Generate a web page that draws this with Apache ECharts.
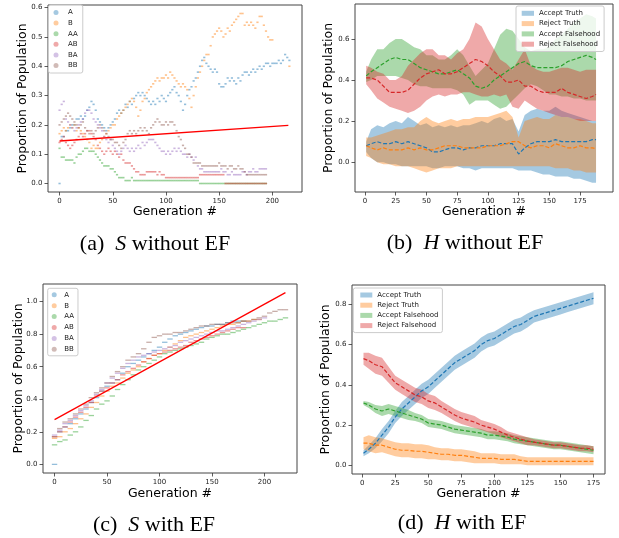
<!DOCTYPE html>
<html lang="en">
<head>
<meta charset="UTF-8">
<title>Proportion of Population</title>
<script src="https://cdn.jsdelivr.net/npm/echarts@6.0.0/dist/echarts.min.js"></script>
<style>
  html, body { margin: 0; padding: 0; background: #fff; }
  #main { width: 619px; height: 538px; }
</style>
</head>
<body>
<div id="main"></div>
<script>
// tab10 colours
const COLORS = ['#1f77b4', '#ff7f0e', '#2ca02c', '#d62728', '#9467bd', '#8c564b'];
const strategyNames = ['A', 'B', 'AA', 'AB', 'BA', 'BB'];
const beliefNames = ['Accept Truth', 'Reject Truth', 'Accept Falsehood', 'Reject Falsehood'];

// ---- (a) S without EF : one value every 2 generations ----
const aStep = 2;
const aA = [0.00,0.16,0.16,0.18,0.18, 0.19,0.20,0.20,0.22,0.22, 0.23,0.22,0.23,0.25,0.26, 0.28,0.27,0.25,0.22,0.21,
  0.20,0.19,0.18,0.19,0.20, 0.21,0.22,0.24,0.25,0.24, 0.25,0.27,0.26,0.28,0.27, 0.29,0.30,0.31,0.30,0.31,
  0.30,0.29,0.28,0.27,0.28, 0.27,0.29,0.28,0.30,0.29, 0.28,0.30,0.31,0.32,0.33, 0.31,0.30,0.28,0.25,0.27,
  0.30,0.32,0.33,0.35,0.36, 0.38,0.40,0.42,0.43,0.41, 0.40,0.39,0.38,0.39,0.38, 0.34,0.33,0.33,0.34,0.36,
  0.35,0.36,0.35,0.34,0.36, 0.35,0.37,0.38,0.38,0.37, 0.38,0.39,0.38,0.39,0.40, 0.39,0.40,0.41,0.41,0.40,
  0.41,0.41,0.41,0.42,0.41, 0.42,0.44,0.43,0.42];
const aB = [0.17,0.18,0.19,0.18,0.19, 0.20,0.19,0.20,0.18,0.19, 0.18,0.17,0.16,0.15,0.14, 0.12,0.13,0.12,0.12,0.14,
  0.15,0.16,0.17,0.18,0.19, 0.20,0.20,0.22,0.23,0.24, 0.25,0.26,0.27,0.28,0.29, 0.28,0.26,0.23,0.25,0.28,
  0.29,0.31,0.32,0.33,0.34, 0.35,0.36,0.35,0.36,0.36, 0.37,0.36,0.38,0.37,0.36, 0.35,0.34,0.33,0.34,0.33,
  0.32,0.29,0.26,0.30,0.33, 0.36,0.38,0.40,0.42,0.44, 0.44,0.47,0.50,0.51,0.52, 0.53,0.52,0.50,0.51,0.53,
  0.52,0.54,0.55,0.56,0.57, 0.58,0.58,0.54,0.55,0.54, 0.55,0.54,0.53,0.55,0.57, 0.57,0.54,0.52,0.50,0.49,
  0.49,null,null,null,null, null,null,null,0.40];
const aAA = [0.12,0.09,0.09,0.08,0.08, 0.08,0.08,0.07,0.09,0.10, 0.10,0.11,0.12,0.12,0.11, 0.11,0.11,0.10,0.09,0.08,
  0.07,0.06,0.06,0.06,0.05, 0.05,0.04,0.03,0.02,0.02, 0.02,0.01,0.01,0.01,0.02, 0.01,0.01,0.01,0.01,0.01,
  0.01,0.01,0.01,0.01,0.01, 0.01,0.01,0.01,0.01,0.01, 0.01,0.01,0.01,0.01,0.01, 0.01,0.01,0.01,0.01,0.01,
  0.01,0.01,0.01,0.01,0.01, 0.01,0.00,0.00,0.00,0.00, 0.00,0.00,0.00,0.00,0.00, 0.00,0.00,0.00,0.00,0.00,
  0.00,0.00,0.00,0.00,0.00, 0.00,0.00,0.00,0.00,0.00, 0.00,0.00,0.00,0.00,0.00, 0.00,0.00,0.00];
const aAB = [0.14,0.15,0.16,0.14,0.13, 0.12,0.13,0.14,0.15,0.16, 0.17,0.16,0.17,0.18,0.18, 0.17,0.16,0.15,0.13,0.12,
  0.11,0.10,0.11,0.12,0.11, 0.10,0.11,0.10,0.09,0.10, 0.08,0.07,0.07,0.07,0.06, 0.05,0.04,0.04,0.03,0.03,
  0.03,0.04,0.04,0.04,0.04, 0.04,0.03,0.04,0.03,0.03, 0.02,0.02,0.02,0.02,0.02, 0.02,0.02,0.02,0.02,0.02,
  0.02,0.02,0.02,0.02,0.02, 0.02,0.03,0.03,0.03,0.03, 0.03,0.03,0.03,0.03,0.03, 0.03,0.03,0.03,0.00,0.00,
  0.00,0.00,0.00,0.00,0.00, 0.00,0.00,0.00,0.00,0.00, 0.00,0.00,0.00,0.00,0.00, 0.00,0.00,0.00];
const aBA = [0.25,0.27,0.28,0.22,0.21, 0.20,0.19,0.18,0.19,0.20, 0.21,0.22,0.24,0.25,0.25, 0.24,0.22,0.21,0.20,0.19,
  0.18,0.16,0.15,0.14,0.15, 0.13,0.12,0.11,0.10,0.11, 0.12,0.13,0.12,0.11,0.12, 0.11,0.12,0.13,0.12,0.14,
  0.13,0.14,0.15,0.15,0.15, 0.14,0.13,0.12,0.11,0.11, 0.10,0.11,0.10,0.11,0.12, 0.11,0.12,0.11,0.10,0.10,
  0.09,0.10,0.09,0.08,0.09, 0.06,0.05,0.05,0.04,0.04, 0.04,0.04,0.04,0.04,0.04, 0.04,0.05,0.04,0.04,0.03,
  0.03,0.04,0.03,0.03,0.03, 0.03,0.04,0.04,0.03,0.04, 0.04,0.05,0.04,0.04,0.05, 0.05,0.05,0.05];
const aBB = [0.20,0.21,0.22,0.23,0.24, 0.23,0.22,0.21,0.20,0.19, 0.20,0.21,0.19,0.18,0.17, 0.18,0.17,0.18,0.19,0.20,
  0.19,0.18,0.17,0.16,0.15, 0.15,0.14,0.14,0.13,0.12, 0.14,0.15,0.17,0.18,0.17, 0.18,0.17,0.18,0.19,0.18,
  0.19,0.18,0.17,0.19,0.20, 0.21,0.22,0.21,0.20,0.20, 0.21,0.20,0.21,0.21,0.20, 0.18,0.16,0.15,0.13,0.12,
  0.10,0.10,0.09,0.07,0.07, 0.07,0.07,0.06,0.06,0.06, 0.06,0.06,0.06,0.06,0.06, 0.07,0.06,0.06,0.06,0.05,
  0.06,0.06,0.05,0.05,0.06, 0.05,0.05,0.04,0.03,0.03, 0.03,0.03,0.03,0.03,0.03, 0.03,0.03,0.03];
const aFitX = [0, 215];
const aFitY = [0.145, 0.198];

// ---- (c) S with EF : one value every 5 generations ----
const cStep = 5;
const cA = [0.00,0.20,0.23,0.25,0.28,0.31,0.34,0.38,0.41,0.45,0.48,0.50,0.52,0.56,0.60,0.62,0.64,0.66,0.68,0.70,
  0.72,0.75,0.77,0.79,0.80,0.81,0.82,0.83,0.84,0.85,0.85,0.86,0.86,0.87,0.88,0.88,0.88];
const cB = [0.16,0.17,0.20,0.22,0.25,0.28,0.31,0.35,0.38,0.42,0.45,0.48,0.50,0.53,0.56,0.58,0.60,0.63,0.65,0.67,
  0.68,0.70,0.72,0.74,0.76,0.78,0.79,0.80,0.81,0.82,0.83,0.84,0.85,0.86,0.86,0.87,0.88,0.88,0.89,0.89];
const cAA = [0.12,0.14,0.15,0.18,0.20,0.23,0.27,0.30,0.34,0.37,0.39,0.42,0.46,0.49,0.52,0.55,0.58,0.60,0.62,0.64,
  0.66,0.68,0.69,0.70,0.71,0.72,0.73,0.74,0.75,0.77,0.78,0.79,0.80,0.80,0.81,0.82,0.83,0.84,0.85,0.86,
  0.87,0.88,0.88,0.89,0.90];
const cAB = [0.17,0.20,0.23,0.26,0.29,0.32,0.35,0.38,0.42,0.45,0.47,0.50,0.52,0.55,0.57,0.59,0.61,0.63,0.65,0.67,
  0.68,0.69,0.70,0.71,0.72,0.73,0.75,0.76,0.77,0.78,0.79,0.80,0.81,0.82,0.83,0.84,0.84];
const cBA = [0.18,0.21,0.25,0.27,0.30,0.33,0.36,0.39,0.43,0.46,0.50,0.53,0.56,0.59,0.62,0.64,0.66,0.67,0.68,0.69,
  0.70,0.71,0.72,0.73,0.75,0.76,0.77,0.78,0.79,0.80,0.81,0.82,0.82,0.83,0.84,0.85,0.86,0.87,0.88,0.89,0.90];
const cBB = [0.17,0.22,0.26,0.28,0.31,0.34,0.37,0.41,0.44,0.47,0.50,0.54,0.57,0.60,0.64,0.66,0.68,0.71,0.75,0.78,
  0.79,0.80,0.80,0.81,0.81,0.82,0.83,0.84,0.85,0.85,0.86,0.86,0.86,0.87,0.87,0.87,0.88,0.88,0.89,0.90,
  0.91,0.93,0.94,0.95,0.95];
const cFitX = [0, 220];
const cFitY = [0.275, 1.055];

// ---- (b) H without EF : mean and band edges ----
const bGen = [1,5,10,15,20,25,30,35,40,45,50,55,60,65,70,75,80,85,90,95,100,105,110,115,120,125,130,135,140,145,150,155,160,165,170,175,180,185,188];
const bMean = [
  [0.08,0.09,0.10,0.09,0.09,0.10,0.09,0.10,0.09,0.08,0.07,0.05,0.05,0.06,0.07,0.07,0.06,0.07,0.07,0.08,0.08,0.08,0.09,0.09,0.09,0.04,0.07,0.09,0.10,0.10,0.10,0.11,0.10,0.10,0.10,0.10,0.10,0.11,0.11],
  [0.08,0.07,0.06,0.07,0.06,0.06,0.06,0.07,0.06,0.07,0.06,0.06,0.07,0.08,0.08,0.08,0.07,0.07,0.07,0.07,0.08,0.08,0.08,0.09,0.10,0.10,0.08,0.07,0.08,0.08,0.07,0.09,0.08,0.07,0.07,0.08,0.07,0.07,0.065],
  [0.42,0.44,0.46,0.48,0.50,0.51,0.50,0.50,0.48,0.46,0.45,0.44,0.43,0.43,0.44,0.45,0.43,0.41,0.37,0.36,0.37,0.40,0.42,0.44,0.46,0.48,0.49,0.47,0.46,0.46,0.46,0.46,0.47,0.49,0.50,0.51,0.52,0.51,0.50],
  [0.41,0.41,0.40,0.37,0.34,0.34,0.34,0.35,0.38,0.41,0.43,0.44,0.45,0.43,0.43,0.44,0.46,0.48,0.50,0.49,0.47,0.44,0.42,0.39,0.39,0.40,0.37,0.37,0.35,0.34,0.34,0.34,0.36,0.34,0.33,0.32,0.31,0.32,0.33]
];
const bUpper = [
  [0.10,0.16,0.18,0.17,0.19,0.20,0.19,0.22,0.20,0.18,0.19,0.17,0.18,0.17,0.18,0.17,0.18,0.18,0.19,0.20,0.19,0.21,0.22,0.20,0.21,0.15,0.23,0.25,0.26,0.25,0.25,0.27,0.25,0.24,0.23,0.22,0.21,0.20,0.20],
  [0.12,0.12,0.13,0.14,0.15,0.16,0.16,0.17,0.17,0.20,0.22,0.20,0.19,0.20,0.21,0.20,0.21,0.21,0.22,0.22,0.22,0.23,0.24,0.25,0.22,0.12,0.20,0.21,0.22,0.21,0.21,0.23,0.22,0.22,0.21,0.21,0.20,0.19,0.19],
  [0.44,0.50,0.55,0.55,0.58,0.60,0.60,0.58,0.56,0.55,0.52,0.52,0.50,0.50,0.52,0.55,0.52,0.47,0.42,0.45,0.48,0.55,0.62,0.65,0.64,0.60,0.56,0.54,0.55,0.55,0.56,0.60,0.62,0.65,0.68,0.70,0.72,0.71,0.70],
  [0.47,0.46,0.44,0.43,0.40,0.40,0.42,0.47,0.50,0.53,0.55,0.55,0.52,0.52,0.50,0.53,0.55,0.60,0.68,0.66,0.60,0.55,0.50,0.48,0.45,0.50,0.55,0.47,0.45,0.44,0.44,0.45,0.46,0.46,0.45,0.44,0.45,0.45,0.45]
];
const bLower = [
  [0.05,0.02,0.00,0.00,-0.01,-0.01,-0.02,-0.02,-0.02,-0.02,-0.02,-0.03,-0.03,-0.02,-0.02,-0.02,-0.03,-0.03,-0.04,-0.03,-0.03,-0.03,-0.03,-0.03,-0.03,-0.04,-0.04,-0.04,-0.05,-0.06,-0.06,-0.07,-0.07,-0.07,-0.08,-0.08,-0.09,-0.10,-0.10],
  [0.03,0.02,0.00,-0.01,-0.01,-0.02,-0.02,-0.02,-0.03,-0.04,-0.05,-0.04,-0.03,-0.03,-0.03,-0.02,-0.02,-0.02,-0.02,-0.02,-0.02,-0.02,-0.02,-0.02,-0.02,-0.02,-0.02,-0.02,-0.02,-0.02,-0.02,-0.03,-0.03,-0.03,-0.04,-0.04,-0.05,-0.05,-0.05],
  [0.39,0.40,0.42,0.42,0.42,0.42,0.41,0.40,0.38,0.37,0.37,0.36,0.36,0.36,0.36,0.35,0.33,0.28,0.30,0.30,0.30,0.28,0.26,0.27,0.30,0.33,0.36,0.38,0.37,0.35,0.33,0.33,0.32,0.32,0.31,0.31,0.30,0.30,0.30],
  [0.38,0.35,0.31,0.29,0.27,0.26,0.25,0.24,0.25,0.27,0.30,0.32,0.33,0.32,0.33,0.33,0.34,0.34,0.33,0.32,0.32,0.33,0.32,0.33,0.27,0.26,0.30,0.28,0.26,0.25,0.24,0.23,0.22,0.22,0.21,0.20,0.20,0.20,0.20]
];

// ---- (d) H with EF : mean and spread ----
const dGen = [1,5,10,15,20,25,30,35,40,45,50,55,60,65,70,75,80,85,90,95,100,105,110,115,120,125,130,135,140,145,150,155,160,165,170,175];
const dMean = [
  [0.06,0.08,0.11,0.15,0.19,0.24,0.28,0.31,0.34,0.37,0.39,0.42,0.45,0.48,0.51,0.53,0.55,0.57,0.60,0.62,0.63,0.65,0.67,0.69,0.70,0.72,0.74,0.75,0.76,0.77,0.78,0.79,0.80,0.81,0.82,0.83],
  [0.11,0.11,0.10,0.10,0.09,0.08,0.075,0.075,0.07,0.07,0.065,0.06,0.055,0.055,0.05,0.05,0.045,0.04,0.035,0.035,0.035,0.03,0.03,0.03,0.025,0.02,0.02,0.02,0.02,0.02,0.02,0.02,0.02,0.02,0.02,0.02],
  [0.31,0.30,0.28,0.27,0.28,0.27,0.26,0.25,0.24,0.23,0.21,0.205,0.20,0.19,0.18,0.175,0.17,0.165,0.16,0.15,0.15,0.145,0.14,0.13,0.125,0.12,0.115,0.11,0.105,0.10,0.10,0.095,0.09,0.085,0.08,0.075],
  [0.53,0.52,0.50,0.49,0.45,0.41,0.39,0.37,0.35,0.34,0.32,0.31,0.29,0.27,0.25,0.235,0.225,0.215,0.20,0.19,0.18,0.165,0.15,0.14,0.13,0.12,0.115,0.11,0.105,0.10,0.10,0.095,0.09,0.085,0.085,0.08]
];
const dSpread = [
  [0.015,0.02,0.025,0.03,0.03,0.03,0.035,0.035,0.035,0.035,0.035,0.035,0.035,0.035,0.035,0.035,0.035,0.035,0.035,0.035,0.035,0.035,0.035,0.035,0.035,0.035,0.03,0.03,0.03,0.03,0.03,0.03,0.03,0.03,0.03,0.03],
  [0.03,0.04,0.04,0.035,0.035,0.035,0.035,0.035,0.035,0.035,0.035,0.03,0.03,0.03,0.03,0.03,0.03,0.03,0.025,0.025,0.025,0.025,0.025,0.025,0.02,0.02,0.02,0.02,0.02,0.02,0.02,0.02,0.02,0.02,0.02,0.02],
  [0.01,0.015,0.02,0.025,0.025,0.025,0.025,0.025,0.02,0.02,0.02,0.02,0.02,0.02,0.02,0.02,0.02,0.02,0.02,0.02,0.02,0.02,0.02,0.02,0.02,0.02,0.02,0.02,0.02,0.02,0.02,0.02,0.02,0.02,0.02,0.02],
  [0.03,0.04,0.045,0.045,0.04,0.035,0.035,0.035,0.035,0.035,0.035,0.035,0.03,0.03,0.03,0.03,0.03,0.03,0.025,0.025,0.025,0.025,0.02,0.02,0.02,0.02,0.015,0.015,0.015,0.015,0.015,0.015,0.015,0.015,0.015,0.015]
];

// ---- ticks and captions ----
const ticksGen200 = [0, 50, 100, 150, 200];
const ticksGen175 = [0, 25, 50, 75, 100, 125, 150, 175];
const ticksYa = [0, 0.1, 0.2, 0.3, 0.4, 0.5, 0.6];
const ticksYb = [0, 0.2, 0.4, 0.6];
const ticksYc = [0, 0.2, 0.4, 0.6, 0.8, 1.0];
const ticksYd = [0, 0.2, 0.4, 0.6, 0.8];
const captions = [
  { text: '(a)  {i|S} without EF', x: 155, y: 244 },
  { text: '(b)  {i|H} without EF', x: 465, y: 243 },
  { text: '(c)  {i|S} with EF', x: 154, y: 525 },
  { text: '(d)  {i|H} with EF', x: 462, y: 523 }
];

function rgba(hex, a) {
  const n = parseInt(hex.slice(1), 16);
  return 'rgba(' + (n >> 16) + ',' + ((n >> 8) & 255) + ',' + (n & 255) + ',' + a + ')';
}

const tickFont = { fontSize: 7, color: '#222', fontFamily: 'DejaVu Sans' };
const nameFont = { fontSize: 12.5, color: '#000', fontFamily: 'DejaVu Sans' };

function xAxisFor(grid, min, max, ticks, gap) {
  return {
    type: 'value', gridIndex: grid, min: min, max: max,
    name: 'Generation #', nameLocation: 'middle', nameGap: gap, nameTextStyle: nameFont,
    axisLine: { show: false, onZero: false },
    axisTick: { show: true, length: 3.5, lineStyle: { color: '#333', width: 0.8 }, customValues: ticks },
    axisLabel: Object.assign({ customValues: ticks, margin: 5.5 }, tickFont),
    splitLine: { show: false }
  };
}

function yAxisFor(grid, min, max, ticks, gap) {
  return {
    type: 'value', gridIndex: grid, min: min, max: max,
    name: 'Proportion of Population', nameLocation: 'middle', nameGap: gap, nameRotate: 90,
    nameMoveOverlap: false, nameTextStyle: nameFont,
    axisLine: { show: false, onZero: false },
    axisTick: { show: true, length: 3.5, lineStyle: { color: '#333', width: 0.8 }, customValues: ticks },
    axisLabel: Object.assign({ customValues: ticks, margin: 5.5, formatter: v => v.toFixed(1) }, tickFont),
    splitLine: { show: false }
  };
}

function gridAt(left, top, width, height) {
  return { left: left, top: top, width: width, height: height, show: true,
    borderColor: '#444', borderWidth: 1, backgroundColor: 'transparent', outerBoundsMode: 'none' };
}

function scatterSeries(name, color, values, step, axis, size) {
  const pts = [];
  values.forEach((v, i) => { if (v !== null) pts.push([i * step, v]); });
  return {
    type: 'scatter', name: name, xAxisIndex: axis, yAxisIndex: axis, silent: true,
    symbol: 'rect', symbolSize: size, itemStyle: { color: rgba(color, 0.6) },
    data: pts
  };
}

function fitSeries(xs, ys, axis) {
  return {
    type: 'line', xAxisIndex: axis, yAxisIndex: axis, silent: true, showSymbol: false,
    lineStyle: { color: '#ff0000', width: 1.3 },
    data: xs.map((x, i) => [x, ys[i]])
  };
}

function bandSeries(name, color, gens, lo, hi, axis) {
  return {
    type: 'custom', name: name, xAxisIndex: axis, yAxisIndex: axis, silent: true, clip: true,
    data: gens.map((g, i) => [g, lo[i], hi[i]]),
    encode: { x: 0, y: [1, 2] },
    renderItem: function (params, api) {
      if (params.dataIndex !== 0) return null;
      const pts = [];
      for (let i = 0; i < gens.length; i++) pts.push(api.coord([gens[i], hi[i]]));
      for (let i = gens.length - 1; i >= 0; i--) pts.push(api.coord([gens[i], lo[i]]));
      return { type: 'polygon', shape: { points: pts }, style: { fill: rgba(color, 0.4) } };
    }
  };
}

function meanSeries(color, gens, mean, axis) {
  return {
    type: 'line', xAxisIndex: axis, yAxisIndex: axis, silent: true, showSymbol: false,
    lineStyle: { color: color, width: 1.2, type: [4, 2] },
    data: gens.map((g, i) => [g, mean[i]])
  };
}

function legendAt(left, top, names, icon, alpha, opts) {
  return Object.assign({
    left: left, top: top, orient: 'vertical', selectedMode: false,
    itemHeight: 5, backgroundColor: 'rgba(255,255,255,0.8)', borderColor: '#ccc',
    borderWidth: 1, borderRadius: 2,
    textStyle: { fontSize: 7, lineHeight: 7, color: '#222', fontFamily: 'DejaVu Sans' },
    data: names.map((n, i) => ({ name: n, icon: icon, itemStyle: { color: rgba(COLORS[i], alpha), borderWidth: 0 } }))
  }, opts);
}

const aValues = [aA, aB, aAA, aAB, aBA, aBB];
const cValues = [cA, cB, cAA, cAB, cBA, cBB];

const series = [];
aValues.forEach((vals, i) => series.push(scatterSeries(strategyNames[i], COLORS[i], vals, aStep, 0, [2.2, 1.6])));
series.push(fitSeries(aFitX, aFitY, 0));
beliefNames.forEach((n, i) => {
  series.push(bandSeries(n, COLORS[i], bGen, bLower[i], bUpper[i], 1));
  series.push(meanSeries(COLORS[i], bGen, bMean[i], 1));
});
cValues.forEach((vals, i) => series.push(scatterSeries(strategyNames[i], COLORS[i], vals, cStep, 2, [5.4, 1.3])));
series.push(fitSeries(cFitX, cFitY, 2));
beliefNames.forEach((n, i) => {
  const lo = dMean[i].map((m, k) => m - dSpread[i][k]);
  const hi = dMean[i].map((m, k) => m + dSpread[i][k]);
  series.push(bandSeries(n, COLORS[i], dGen, lo, hi, 3));
  series.push(meanSeries(COLORS[i], dGen, dMean[i], 3));
});

const chart = echarts.init(document.getElementById('main'), null, { renderer: 'canvas' });
chart.setOption({
  animation: false,
  backgroundColor: '#fff',
  grid: [
    gridAt(48, 5, 254, 187),
    gridAt(355, 4, 258, 188),
    gridAt(43, 284, 254, 189),
    gridAt(352, 285, 253, 189)
  ],
  xAxis: [
    xAxisFor(0, -10.85, 227.85, ticksGen200, 13),
    xAxisFor(1, -8.1, 201.8, ticksGen175, 13),
    xAxisFor(2, -11, 231, ticksGen200, 14),
    xAxisFor(3, -7.7, 183.7, ticksGen175, 13.5)
  ],
  yAxis: [
    yAxisFor(0, -0.029, 0.609, ticksYa, 19),
    yAxisFor(1, -0.145, 0.77, ticksYb, 20),
    yAxisFor(2, -0.053, 1.108, ticksYc, 18),
    yAxisFor(3, -0.043, 0.896, ticksYd, 20)
  ],
  legend: [
    legendAt(48.5, 5, strategyNames, 'circle', 0.5, { itemWidth: 14, itemGap: 3.6, padding: [4, 5, 4, 5] }),
    legendAt(516, 6, beliefNames, 'rect', 0.4, { itemWidth: 12.3, itemGap: 3.3, padding: [3.8, 4, 3.8, 5.7] }),
    legendAt(47.7, 288.3, strategyNames, 'circle', 0.5, { itemWidth: 10, itemGap: 3.9, padding: [3, 4, 3, 4] }),
    legendAt(353.3, 288, beliefNames, 'rect', 0.4, { itemWidth: 12, itemGap: 3.2, padding: [3.5, 4, 3.5, 7] })
  ],
  graphic: captions.map(c => ({
    type: 'text', x: c.x, y: c.y, silent: true,
    style: {
      text: c.text, fill: '#000', fontFamily: 'Liberation Serif', fontSize: 22,
      align: 'center', verticalAlign: 'middle', textAlign: 'center', textVerticalAlign: 'middle',
      rich: { i: { fontStyle: 'italic', fontFamily: 'Liberation Serif', fontSize: 22, fill: '#000' } }
    }
  })),
  series: series
});
</script>
</body>
</html>
